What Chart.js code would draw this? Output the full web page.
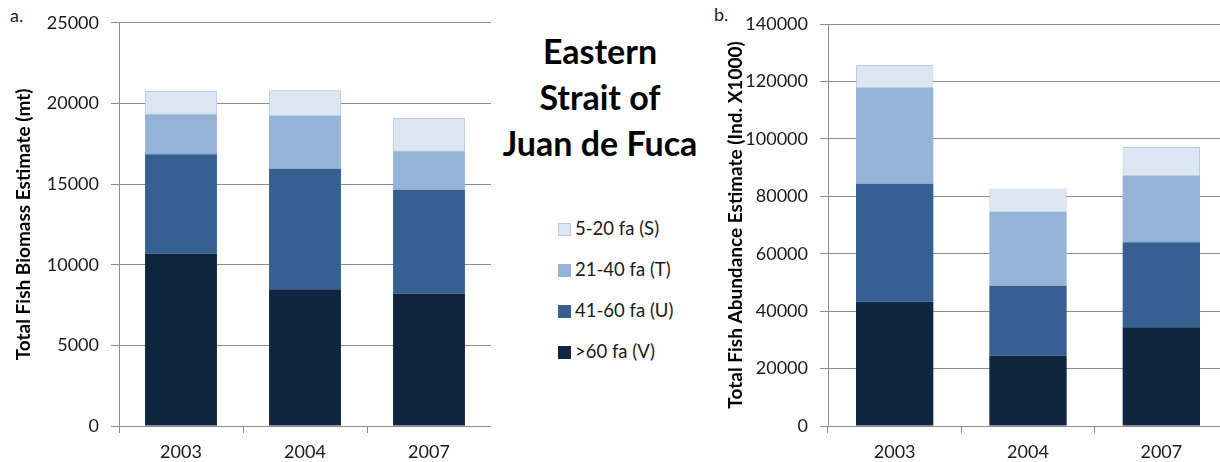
<!DOCTYPE html>
<html>
<head>
<meta charset="utf-8">
<script src="https://cdn.jsdelivr.net/npm/chart.js@4"></script>
<style>
  html, body { margin: 0; padding: 0; background: #fff; overflow: hidden; }
  body { width: 1220px; height: 462px; position: relative; font-family: Lato, "Open Sans", sans-serif; color: #1a1a1a; }
  canvas { position: absolute; top: 0; }
  #bio { left: 0; }
  #abu { left: 700px; }
  .tag { position: absolute; font-size: 18px; }
  #title { position: absolute; left: 480px; width: 240px; top: 28px; text-align: center;
           font-weight: 700; font-size: 34px; line-height: 46px; color: #000; }
  #legend { position: absolute; left: 558px; top: 217px; font-size: 18.5px; }
  #legend div { height: 41px; line-height: 22px; white-space: nowrap; }
  #legend span { display: inline-block; width: 13px; height: 13px; margin-right: 4px; vertical-align: -1px; }
</style>
</head>
<body>
<div class="tag" style="left:10px; top:4px;">a.</div>
<div class="tag" style="left:714px; top:3px;">b.</div>
<div id="title">Eastern<br>Strait of<br>Juan de Fuca</div>
<div id="legend"></div>
<canvas id="bio" width="491" height="462"></canvas>
<canvas id="abu" width="528" height="462"></canvas>
<script>
var years = ['2003', '2004', '2007'];
var depthLabels = ['>60 fa (V)', '41-60 fa (U)', '21-40 fa (T)', '5-20 fa (S)'];
var depthColors = ['#10253f', '#376092', '#95b3d7', '#dce6f2'];

// biomass, metric tonnes
var bioV = [10700, 8480, 8210];
var bioU = [6150, 7470, 6440];
var bioT = [2480, 3300, 2390];
var bioS = [1440, 1600, 2060];

// abundance, individuals x1000
var abuV = [43300, 24500, 34400];
var abuU = [41100, 24300, 29600];
var abuT = [33300, 25800, 23100];
var abuS = [8000, 8100, 10100];

var font = 'Lato';
var ink = '#1a1a1a';
var gridGrey = '#8c8c8c';

function makeSets(series) {
  return series.map(function(vals, i) {
    return {
      label: depthLabels[i],
      data: vals,
      backgroundColor: depthColors[i],
      borderColor: i === 3 ? '#b9cde5' : depthColors[i],
      borderWidth: i === 3 ? 1 : 0,
      borderSkipped: false,
      barPercentage: 0.58,
      categoryPercentage: 1
    };
  });
}

function makeChart(id, series, yMax, yStep, yTitle, axisW, titlePad) {
  return new Chart(document.getElementById(id), {
    type: 'bar',
    data: { labels: years, datasets: makeSets(series) },
    options: {
      responsive: false,
      animation: false,
      devicePixelRatio: 1,
      layout: { padding: { top: id === 'bio' ? 22 : 24, right: 0, bottom: 0, left: 0 } },
      plugins: { legend: { display: false }, tooltip: { enabled: false } },
      scales: {
        x: {
          stacked: true,
          grid: { offset: true, drawOnChartArea: false, drawTicks: true, tickLength: 7, color: gridGrey },
          border: { display: false },
          ticks: { color: ink, font: { family: font, size: 18 }, padding: 8 },
          afterFit: function(s) { s.height = 36; }
        },
        y: {
          stacked: true,
          min: 0,
          max: yMax,
          grid: { color: gridGrey, tickLength: 8 },
          border: { color: gridGrey },
          ticks: {
            stepSize: yStep, color: ink, font: { family: font, size: 18 }, padding: 12,
            callback: function(v) { return String(v); }
          },
          title: {
            display: true, text: yTitle, color: '#000',
            font: { family: font, size: 19, weight: 'bold' },
            padding: { top: titlePad, bottom: 0 }
          },
          afterFit: function(s) { s.width = axisW; }
        }
      }
    }
  });
}

makeChart('bio', [bioV, bioU, bioT, bioS], 25000, 5000,
  'Total Fish Biomass Estimate (mt)', 119, 12);
makeChart('abu', [abuV, abuU, abuT, abuS], 140000, 20000,
  'Total Fish Abundance Estimate (Ind. X1000)', 128, 24);

// shared legend, shallow layer first
var legend = document.getElementById('legend');
for (var i = depthLabels.length - 1; i >= 0; i--) {
  var row = document.createElement('div');
  var sw = document.createElement('span');
  sw.style.background = depthColors[i];
  if (i === 3) { sw.style.boxShadow = 'inset 0 0 0 1px #b9cde5'; }
  row.appendChild(sw);
  row.appendChild(document.createTextNode(depthLabels[i]));
  legend.appendChild(row);
}
</script>
</body>
</html>
